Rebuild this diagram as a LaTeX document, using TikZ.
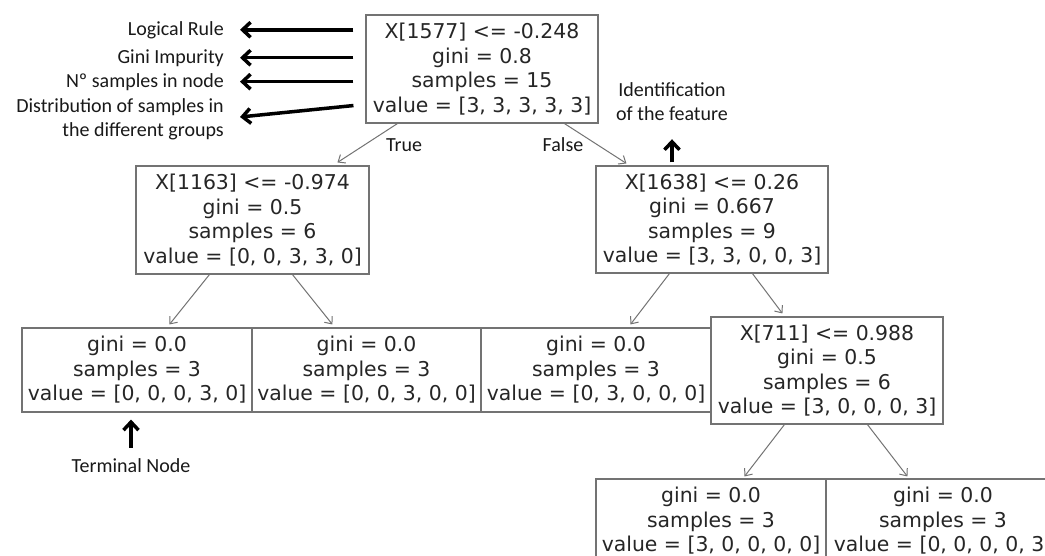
\documentclass[tikz,border=0pt]{standalone}
\usepackage{fontspec}
\newfontfamily\treefont{DejaVu Sans}
\newfontfamily\notefont{Carlito}
\usetikzlibrary{arrows.meta,calc}
\tikzset{
  treebox/.style={draw=black!55, fill=white, line width=1.1pt, text=black!85,
    font=\treefont\fontsize{20.4}{24.5}\selectfont, align=center, inner sep=0pt,
    minimum width=232pt, minimum height=108pt},
  leafbox/.style={treebox, minimum width=230pt, minimum height=84pt},
  edge/.style={draw=black!55, line width=1pt, -{Straight Barb[length=6pt,width=10pt]}},
  note/.style={font=\notefont\fontsize{20}{24}\selectfont, text=black!90, inner sep=0pt},
  notearrow/.style={line width=3.5pt, -{Straight Barb[length=8pt,width=15pt]}},
}
\begin{document}
\begin{tikzpicture}[x=1pt,y=-1pt]
\useasboundingbox (0,0) rectangle (1045,555);
\clip (0,0) rectangle (1045,555);
\fill[white] (0,0) rectangle (1045,555);

% decision tree
\node[treebox] (root) at (482,69) {X[1577] <= -0.248\\gini = 0.8\\samples = 15\\value = [3, 3, 3, 3, 3]};
\node[treebox, minimum width=233pt] (n1) at (252.5,220) {X[1163] <= -0.974\\gini = 0.5\\samples = 6\\value = [0, 0, 3, 3, 0]};
\node[treebox, minimum height=107pt] (n2) at (712,219.5) {X[1638] <= 0.26\\gini = 0.667\\samples = 9\\value = [3, 3, 0, 0, 3]};
\node[leafbox] (l1) at (137,370) {gini = 0.0\\samples = 3\\value = [0, 0, 0, 3, 0]};
\node[leafbox, minimum width=229pt] (l2) at (366.5,370) {gini = 0.0\\samples = 3\\value = [0, 0, 3, 0, 0]};
\node[leafbox] (l3) at (596,370) {gini = 0.0\\samples = 3\\value = [0, 3, 0, 0, 0]};
\node[treebox, minimum height=107pt] (n3) at (827,370.5) {X[711] <= 0.988\\gini = 0.5\\samples = 6\\value = [3, 0, 0, 0, 3]};
\node[leafbox] (l4) at (711,521) {gini = 0.0\\samples = 3\\value = [3, 0, 0, 0, 0]};
\node[leafbox, minimum width=234pt] (l5) at (943,521) {gini = 0.0\\samples = 3\\value = [0, 0, 0, 0, 3]};

\draw[edge] ([xshift=32pt]root.south west) -- ([xshift=202pt,yshift=3pt]n1.north west);
\draw[edge] ([xshift=199pt]root.south west) -- ([xshift=31pt,yshift=2pt]n2.north west);
\draw[edge] ([xshift=74pt]n1.south west) -- ([xshift=148pt,yshift=3pt]l1.north west);
\draw[edge] ([xshift=157pt]n1.south west) -- ([xshift=81pt,yshift=3pt]l2.north west);
\draw[edge] ([xshift=74pt]n2.south west) -- ([xshift=150pt,yshift=3pt]l3.north west);
\draw[edge] ([xshift=157pt]n2.south west) -- ([xshift=72pt,yshift=3pt]n3.north west);
\draw[edge] ([xshift=74pt]n3.south west) -- ([xshift=149pt,yshift=2pt]l4.north west);
\draw[edge] ([xshift=157pt]n3.south west) -- ([xshift=82pt,yshift=2pt]l5.north west);

\node[note] (t) at (404,145) {True};
\node[note] (f) at (563,145) {False};

% annotations
\node[note, anchor=base east] (lr) at (224,35) {Logical Rule};
\node[note, anchor=base east] (gi) at (224,63) {Gini Impurity};
\node[note, anchor=base east] (ns) at (224,87) {Nº samples in node};
\node[note, anchor=east, align=right] (ds) at (224,119) {Distribution of samples in\\the different groups};
\node[note, anchor=base] (tn) at (131,472) {Terminal Node};
\node[note, align=center] (idf) at (672,102) {Identification\\of the feature};

\draw[notearrow] ([xshift=-12pt]root.west |- lr.east) -- ([xshift=16pt]lr.east);
\draw[notearrow] ([xshift=-12pt]root.west |- gi.east) -- ([xshift=16pt]gi.east);
\draw[notearrow] ([xshift=-12pt]root.west |- ns.east) -- ([xshift=16pt]ns.east);
\draw[notearrow] ([xshift=-12pt,yshift=18pt]root.south west) -- ([xshift=16pt,yshift=2pt]ds.east);
\draw[notearrow] ([yshift=10pt]tn.north) -- ([yshift=-7pt]tn.north |- l1.south);
\draw[notearrow] ([yshift=3pt]n2.north -| idf.south) -- ([yshift=-18pt]idf.south);
\end{tikzpicture}
\end{document}
